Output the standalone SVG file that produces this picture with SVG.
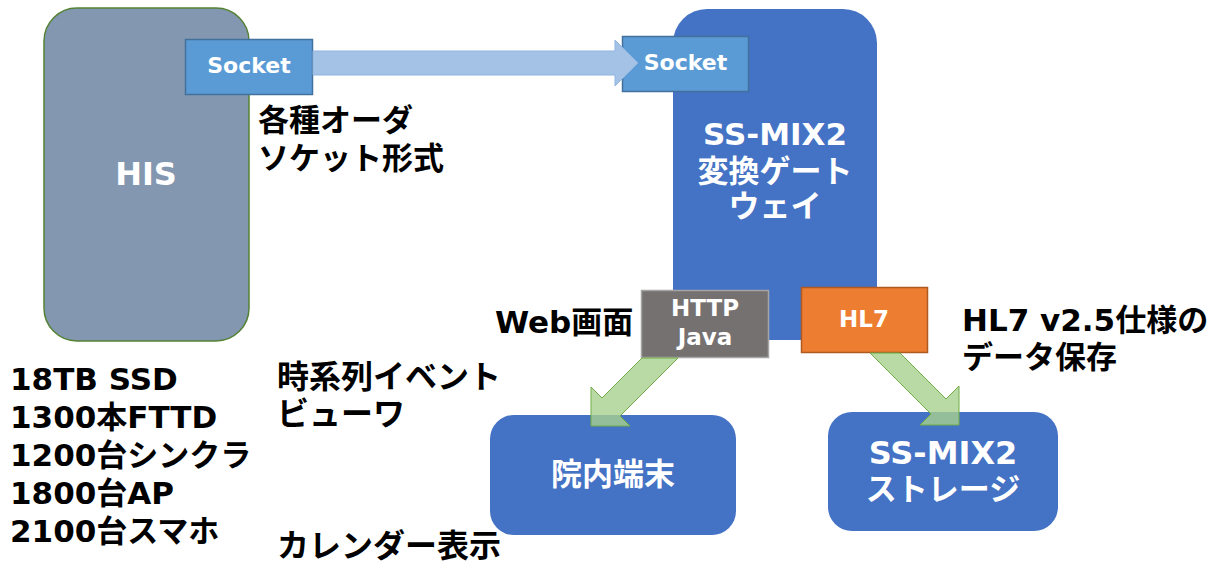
<svg xmlns="http://www.w3.org/2000/svg" width="1213" height="566" viewBox="0 0 1213 566">
  <style>
    text { font-family: "DejaVu Sans", "Noto Sans CJK JP", sans-serif; font-weight: bold; }
    .lbl { font-size: 32px; fill: #000000; }
    .list { font-size: 31px; fill: #000000; }
    .inner { font-size: 31px; fill: #ffffff; text-anchor: middle; }
    .small { font-size: 22px; fill: #ffffff; text-anchor: middle; }
    .tag { font-size: 23px; fill: #ffffff; text-anchor: middle; }
    .his { fill: #8497B0; stroke: #548235; stroke-width: 1.5; }
    .socket { fill: #5B9BD5; stroke: #41719C; stroke-width: 1.5; }
    .blue { fill: #4472C4; }
    .http { fill: #767171; stroke: #A5A5A5; stroke-width: 1.5; }
    .hl7 { fill: #ED7D31; stroke: #AE5A21; stroke-width: 1.5; }
    .flow { fill: #A4C2E6; stroke: #8FB4E0; stroke-width: 1; }
    .green { fill: #A9D18E; fill-opacity: 0.8; stroke: #70AD47; stroke-width: 1; }
  </style>

  <!-- HIS host -->
  <g id="his">
    <rect class="his" x="44" y="8" width="205" height="333" rx="33" ry="33"/>
    <text class="inner" x="146" y="185" style="font-size:32px">HIS</text>
  </g>
  <g id="socket-his">
    <rect class="socket" x="185.5" y="39.5" width="127" height="55"/>
    <text class="small" x="249" y="73">Socket</text>
  </g>

  <!-- gateway -->
  <g id="gateway">
    <rect class="blue" x="673" y="9" width="204" height="331" rx="34" ry="34"/>
    <text class="inner" x="775" y="145">SS-MIX2</text>
    <text class="inner" x="775" y="182">変換ゲート</text>
    <text class="inner" x="775" y="217">ウェイ</text>
  </g>
  <g id="socket-gw">
    <rect class="socket" x="622.5" y="36.5" width="126" height="55"/>
    <text class="small" x="685.5" y="70">Socket</text>
  </g>
  <g id="http">
    <rect class="http" x="641.5" y="290.5" width="127" height="67"/>
    <text class="tag" x="705" y="316">HTTP</text>
    <text class="tag" x="705" y="345">Java</text>
  </g>
  <g id="hl7">
    <rect class="hl7" x="801.5" y="287.5" width="126" height="65"/>
    <text class="tag" x="864" y="327">HL7</text>
  </g>

  <!-- destinations -->
  <g id="terminal">
    <rect class="blue" x="490" y="415" width="246" height="120" rx="24" ry="24"/>
    <text class="inner" x="613" y="485">院内端末</text>
  </g>
  <g id="storage">
    <rect class="blue" x="828" y="412" width="230" height="119" rx="24" ry="24"/>
    <text class="inner" x="943" y="464" style="font-size:32px">SS-MIX2</text>
    <text class="inner" x="943" y="500">ストレージ</text>
  </g>

  <!-- connectors -->
  <g id="connectors">
    <polygon class="flow" points="313,51 615,51 615,40 638,63 615,86 615,75 313,75"/>
    <polygon class="green" points="642,358 678,358 620,416 630,426 591,426 591,387 602,398"/>
    <polygon class="green" points="870,353 900,353 946,399 959,386 959,425 920,425 931,414"/>
  </g>

  <!-- annotations -->
  <g id="notes">
    <text class="lbl" x="258" y="131" style="font-size:31px">各種オーダ</text>
    <text class="lbl" x="258" y="169" style="font-size:31px">ソケット形式</text>
    <text class="lbl" x="495" y="333" style="font-size:31px">Web画面</text>
    <text class="lbl" x="962" y="331" style="font-size:31px">HL7 v2.5仕様の</text>
    <text class="lbl" x="962" y="368" style="font-size:31px">データ保存</text>
    <text class="lbl" x="277" y="388">時系列イベント</text>
    <text class="lbl" x="277" y="425">ビューワ</text>
    <text class="lbl" x="277" y="557">カレンダー表示</text>
    <text class="list" x="10" y="390">18TB SSD</text>
    <text class="list" x="10" y="428">1300本FTTD</text>
    <text class="list" x="10" y="466">1200台シンクラ</text>
    <text class="list" x="10" y="504">1800台AP</text>
    <text class="list" x="10" y="542">2100台スマホ</text>
  </g>
</svg>
